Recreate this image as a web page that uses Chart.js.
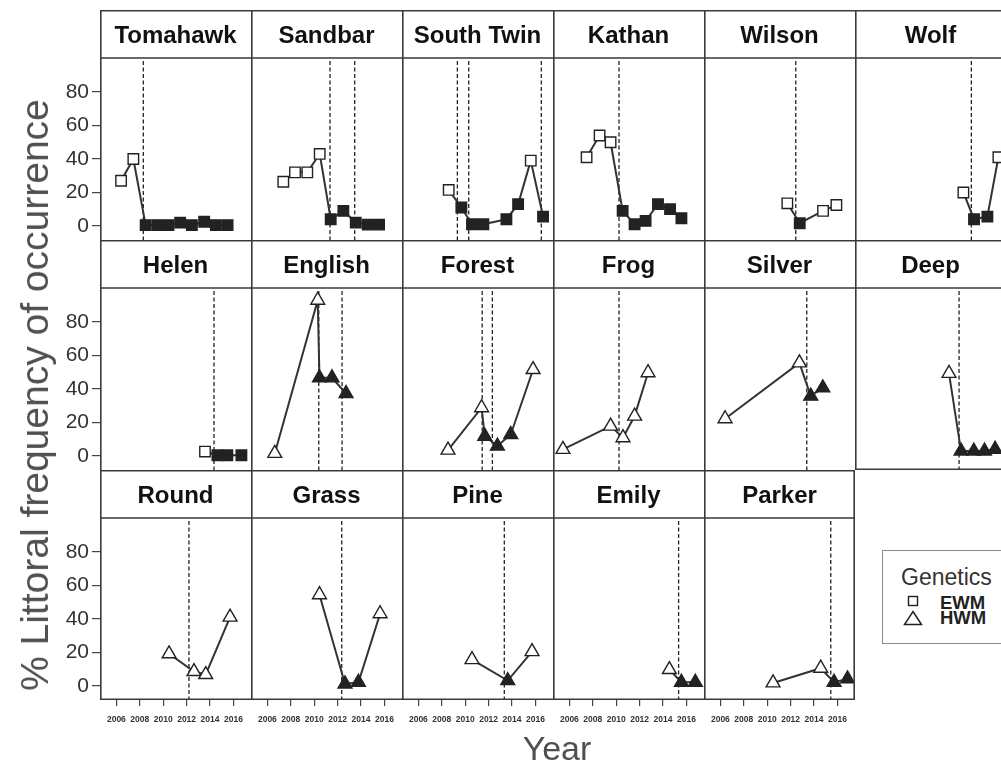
<!DOCTYPE html>
<html>
<head>
<meta charset="utf-8">
<script src="https://cdn.jsdelivr.net/npm/chart.js@4.4.1/dist/chart.umd.min.js"></script>
<style>
html, body { margin: 0; padding: 0; background: #fff; overflow: hidden; }
#fig { position: relative; width: 1001px; height: 765px; overflow: hidden; font-family: Arial, "Liberation Sans", sans-serif; }
#fig canvas { position: absolute; }
.lbl { position: absolute; white-space: nowrap; }
</style>
</head>
<body>
<div id="fig"></div>
<script>
// panel order: left to right, top to bottom
const lakeNames = ['Tomahawk', 'Sandbar', 'South Twin', 'Kathan', 'Wilson', 'Wolf',
                   'Helen', 'English', 'Forest', 'Frog', 'Silver', 'Deep',
                   'Round', 'Grass', 'Pine', 'Emily', 'Parker'];
const lakeGenetics = ['EWM', 'EWM', 'EWM', 'EWM', 'EWM', 'EWM',
                      'EWM', 'HWM', 'HWM', 'HWM', 'HWM', 'HWM',
                      'HWM', 'HWM', 'HWM', 'HWM', 'HWM'];
const sampleYears = [
  [2006.4, 2007.45, 2008.5, 2009.5, 2010.45, 2011.45, 2012.45, 2013.5, 2014.5, 2015.5],
  [2007.36, 2008.36, 2009.41, 2010.47, 2011.41, 2012.49, 2013.55, 2014.57, 2015.54],
  [2008.59, 2009.67, 2010.58, 2011.55, 2013.52, 2014.52, 2015.6, 2016.65],
  [2007.47, 2008.58, 2009.52, 2010.55, 2011.57, 2012.51, 2013.57, 2014.6, 2015.57],
  [2011.72, 2012.78, 2014.77, 2015.91],
  [2013.86, 2014.77, 2015.91, 2016.85],
  [2013.57, 2014.63, 2015.48, 2016.68],
  [2006.63, 2010.3, 2010.45, 2011.52, 2012.72],
  [2008.53, 2011.4, 2011.67, 2012.75, 2013.89, 2015.8],
  [2005.45, 2009.52, 2010.58, 2011.57, 2012.72],
  [2006.4, 2012.75, 2013.72, 2014.75],
  [2012.63, 2013.66, 2014.75, 2015.66, 2016.57],
  [2010.5, 2012.63, 2013.63, 2015.71],
  [2010.45, 2012.63, 2013.78, 2015.63],
  [2010.58, 2013.63, 2015.71],
  [2014.54, 2015.57, 2016.76],
  [2010.5, 2014.57, 2015.71, 2016.86]
];
const littoralPct = [
  [27, 40, 0.5, 0.5, 0.5, 2, 0.5, 2.5, 0.5, 0.5],
  [26.4, 32, 32, 43, 4, 9, 2, 0.8, 0.8],
  [21.5, 11, 1, 1, 4, 13, 39, 5.6],
  [41, 54, 50, 9, 1, 3, 13, 10, 4.6],
  [13.5, 1.6, 9, 12.5],
  [20, 4, 5.6, 41],
  [2.6, 0.4, 0.4, 0.4],
  [1.5, 93, 46.7, 46.7, 37.3],
  [3.5, 28.8, 11.8, 5.9, 12.8, 51.6],
  [3.9, 17.8, 10.9, 23.8, 49.7],
  [22.2, 55.6, 35.7, 40.7],
  [49.3, 2.9, 2.9, 2.9, 4],
  [19.2, 8.6, 6.8, 41.1],
  [54.5, 1.2, 2.2, 43.1],
  [15.7, 3.2, 20.5],
  [9.8, 2.2, 2.2],
  [1.8, 10.6, 2.2, 4.2]
];
// 1 = sampled after treatment (filled symbol)
const postTreatment = [
  [0, 0, 1, 1, 1, 1, 1, 1, 1, 1],
  [0, 0, 0, 0, 1, 1, 1, 1, 1],
  [0, 1, 1, 1, 1, 1, 0, 1],
  [0, 0, 0, 1, 1, 1, 1, 1, 1],
  [0, 1, 0, 0],
  [0, 1, 1, 0],
  [0, 1, 1, 1],
  [0, 0, 1, 1, 1],
  [0, 0, 1, 1, 1, 0],
  [0, 0, 0, 0, 0],
  [0, 0, 1, 1],
  [0, 1, 1, 1, 1],
  [0, 0, 0, 0],
  [0, 1, 1, 0],
  [0, 1, 0],
  [0, 1, 1],
  [0, 0, 1, 1]
];
const treatmentDates = [
  [2008.3], [2011.35, 2013.46], [2009.33, 2010.3, 2016.5], [2010.24], [2012.44], [2014.54],
  [2014.34], [2010.39, 2012.38], [2011.45, 2012.32], [2010.24], [2013.38], [2013.49],
  [2012.2], [2012.35], [2013.34], [2015.33], [2015.43]
];
const xTickYears = [2006, 2008, 2010, 2012, 2014, 2016];
const yTickValues = [0, 20, 40, 60, 80];
const legendTitle = 'Genetics';
const legendLabels = ['EWM', 'HWM'];

// layout of the lattice
const GRID_LEFT = 100, GRID_TOP = 10;
const COL_W = 151, ROW_H = 230, STRIP_H = 48, PLOT_H = 182;
const NCOL = 6;
const Y_AXIS_W = 45, X_AXIS_H = 32;
const FRAME = '#3a3a3a';
const fig = document.getElementById('fig');

function makePanel(i) {
  const row = Math.floor(i / NCOL), col = i % NCOL;
  const hasY = col === 0;
  const hasX = i + NCOL >= lakeNames.length;   // nothing below -> close the frame
  const showXLabels = row === 2;
  const lastInRow = col === NCOL - 1 || i === lakeNames.length - 1;

  const cv = document.createElement('canvas');
  const w = COL_W + (hasY ? Y_AXIS_W : 0);
  const h = STRIP_H + PLOT_H + (showXLabels ? X_AXIS_H : 0);
  cv.width = w; cv.height = h;
  cv.style.left = (GRID_LEFT + col * COL_W - (hasY ? Y_AXIS_W : 0)) + 'px';
  cv.style.top = (GRID_TOP + row * ROW_H) + 'px';
  cv.style.width = w + 'px'; cv.style.height = h + 'px';
  fig.appendChild(cv);

  const shape = lakeGenetics[i] === 'EWM' ? 'rect' : 'triangle';

  const stripFrame = {
    id: 'stripFrame',
    afterDraw(chart) {
      const { ctx, chartArea: a } = chart;
      const top = a.top - STRIP_H;
      ctx.save();
      ctx.strokeStyle = FRAME;
      ctx.lineWidth = 1.6;
      ctx.beginPath();
      ctx.moveTo(a.left + 0.8, top); ctx.lineTo(a.left + 0.8, a.bottom);
      ctx.moveTo(a.left, top + 0.8); ctx.lineTo(a.right, top + 0.8);
      ctx.moveTo(a.left, a.top); ctx.lineTo(a.right, a.top);
      if (lastInRow) { ctx.moveTo(a.right - 0.8, top); ctx.lineTo(a.right - 0.8, a.bottom); }
      if (hasX) { ctx.moveTo(a.left, a.bottom - 0.8); ctx.lineTo(a.right, a.bottom - 0.8); }
      ctx.stroke();
      ctx.restore();
    }
  };

  // dashed vertical lines at treatment dates
  const treatmentLines = {
    id: 'treatmentLines',
    beforeDatasetsDraw(chart) {
      const { ctx, chartArea: a, scales } = chart;
      ctx.save();
      ctx.strokeStyle = '#222';
      ctx.lineWidth = 1.3;
      ctx.setLineDash([4, 2.5]);
      treatmentDates[i].forEach(d => {
        const px = scales.x.getPixelForValue(d);
        ctx.beginPath();
        ctx.moveTo(px, a.top + 3);
        ctx.lineTo(px, a.bottom);
        ctx.stroke();
      });
      ctx.restore();
    }
  };

  new Chart(cv, {
    type: 'line',
    data: {
      datasets: [{
        data: sampleYears[i].map((x, k) => ({ x: x, y: littoralPct[i][k] })),
        borderColor: '#333',
        borderWidth: 2,
        tension: 0,
        clip: false,
        pointStyle: shape,
        pointRadius: shape === 'rect' ? 7.4 : 8,
        pointBorderWidth: 1.4,
        pointBorderColor: '#222',
        pointBackgroundColor: postTreatment[i].map(p => p ? '#222' : '#fff')
      }]
    },
    options: {
      responsive: false,
      animation: false,
      devicePixelRatio: 1,
      layout: { padding: 0, autoPadding: false },
      plugins: {
        legend: { display: false },
        tooltip: { enabled: false },
        title: {
          display: true,
          fullSize: false,
          text: lakeNames[i],
          color: '#111',
          font: { family: 'Arial', size: 24, weight: 'bold', lineHeight: 1.25 },
          padding: { top: 11, bottom: 7 }
        }
      },
      scales: {
        x: {
          type: 'linear',
          min: 2004.6,
          max: 2017.5,
          display: showXLabels,
          afterBuildTicks: s => { s.ticks = xTickYears.map(v => ({ value: v })); },
          afterFit: s => {
            s.height = showXLabels ? X_AXIS_H : 0;
            s.paddingLeft = 0; s.paddingRight = 0;
          },
          border: { display: false },
          grid: { drawOnChartArea: false, drawTicks: true, tickLength: 6, color: '#444', lineWidth: 1.2 },
          ticks: {
            autoSkip: false, maxRotation: 0, minRotation: 0, padding: 9,
            color: '#333',
            font: { family: 'Arial', size: 8.5, weight: 'bold' },
            callback: v => String(v)
          }
        },
        y: {
          min: -8.4,
          max: 100.3,
          display: hasY,
          afterBuildTicks: s => { s.ticks = yTickValues.map(v => ({ value: v })); },
          afterFit: s => {
            s.width = hasY ? Y_AXIS_W : 0;
            s.paddingTop = 0; s.paddingBottom = 0;
          },
          border: { display: false },
          grid: { drawOnChartArea: false, drawTicks: true, tickLength: 8, color: '#444', lineWidth: 1.2 },
          ticks: {
            padding: 3,
            color: '#333',
            font: { family: 'Arial', size: 21 }
          }
        }
      }
    },
    plugins: [treatmentLines, stripFrame]
  });
}

lakeNames.forEach((_, i) => makePanel(i));

// axis titles
function addLabel(text, css) {
  const d = document.createElement('div');
  d.className = 'lbl';
  d.textContent = text;
  Object.assign(d.style, css);
  fig.appendChild(d);
  return d;
}
addLabel('Year', { left: '457px', width: '200px', textAlign: 'center', top: '728px',
  fontSize: '34px', lineHeight: '40px', color: '#505050' });
addLabel('% Littoral frequency of occurrence', {
  left: '35px', top: '395px', fontSize: '39px', lineHeight: '44px', color: '#505050',
  transform: 'translate(-50%, -50%) rotate(-90deg)'
});

// legend for genetics
const box = document.createElement('div');
Object.assign(box.style, { position: 'absolute', left: '882px', top: '550px', width: '140px', height: '94px',
  border: '1.5px solid #8a8a8a', boxSizing: 'border-box' });
fig.appendChild(box);
addLabel(legendTitle, { left: '901px', top: '563px', fontSize: '23px', lineHeight: '28px', color: '#333' });
const symbolSvg = [
  '<svg width="14" height="14"><rect x="2.5" y="2.5" width="9" height="9" fill="#fff" stroke="#222" stroke-width="1.4"/></svg>',
  '<svg width="20" height="16"><polygon points="10,1.5 18.5,14.5 1.5,14.5" fill="#fff" stroke="#222" stroke-width="1.5"/></svg>'
];
const legendY = [602.5, 617.5];
legendLabels.forEach((lab, k) => {
  const s = document.createElement('div');
  s.innerHTML = symbolSvg[k];
  const sw = k === 0 ? 14 : 20, sh = k === 0 ? 14 : 16;
  Object.assign(s.style, { position: 'absolute', left: (913 - sw / 2) + 'px', top: (legendY[k] - sh / 2 - (k === 0 ? 2 : 0)) + 'px',
    width: sw + 'px', height: sh + 'px', lineHeight: '0' });
  fig.appendChild(s);
  addLabel(lab, { left: '940px', top: (legendY[k] - 10) + 'px', fontSize: '18.5px', lineHeight: '20px',
    fontWeight: 'bold', color: '#222' });
});
</script>
</body>
</html>
